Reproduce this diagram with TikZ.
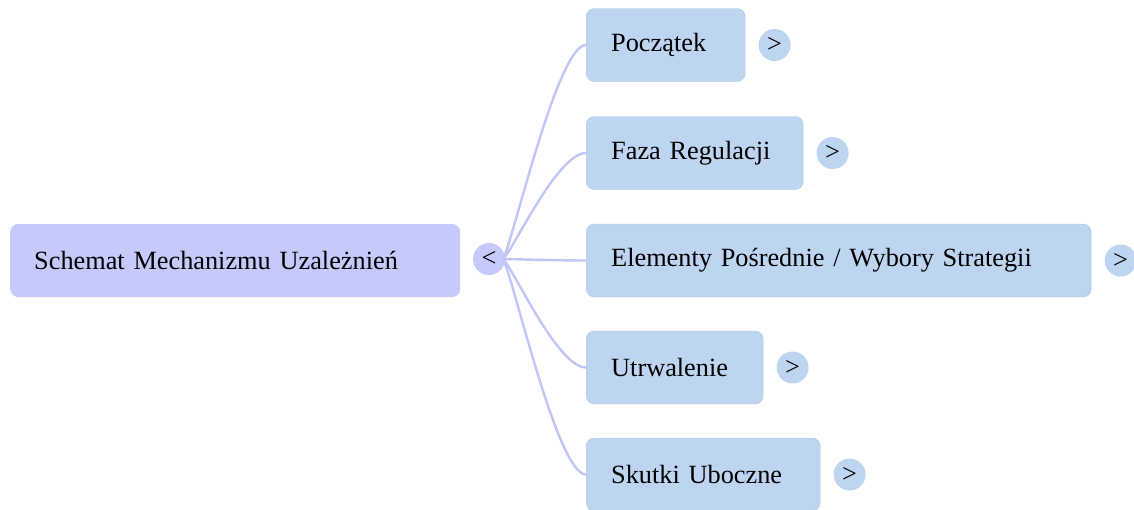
\documentclass[tikz,border=0pt]{standalone}
\usepackage{fontspec}
\setmainfont{Liberation Serif}
\usetikzlibrary{positioning}
\definecolor{rootfill}{RGB}{197,202,251}
\definecolor{leaffill}{RGB}{189,213,240}
\definecolor{leafline}{RGB}{178,200,230}
\definecolor{linkline}{RGB}{192,198,248}
\begin{document}
\begin{tikzpicture}[
                x=1pt,y=-1pt,
                every node/.style={font=\fontsize{26.3}{30}\selectfont},
                rootbox/.style={fill=rootfill,rounded corners=8pt,minimum height=73pt,inner xsep=24pt,anchor=west,align=left},
                leafbox/.style={draw=leafline,fill=leaffill,rounded corners=8pt,minimum height=73pt,inner xsep=25pt,anchor=west,align=left},
                togglebtn/.style={circle,inner sep=0pt,minimum size=32pt},
                link/.style={linkline,line width=2.4pt}
            ]
                \useasboundingbox (0,0) rectangle (1134,509);

                \node[rootbox,text width=402pt] (root) at (10,260.5) {Schemat Mechanizmu Uzależnień};
                \node[togglebtn,fill=rootfill] (rootbtn) at (489,259) {<};

                \foreach \name/\txt/\y/\w in {start/Początek/45/159, reg/Faza Regulacji/153/217, mid/{Elementy Pośrednie / Wybory Strategii}/260.5/505, fix/Utrwalenie/367.5/177, side/Skutki Uboczne/474.5/234} {
                    \draw[link] ([xshift=-3pt]rootbtn.east) .. controls +(7,0) and +(-30,0) .. (586,\y);
                    \node[leafbox,text width=\w pt-50pt] (\name) at (586,\y) {\txt};
                    \node[togglebtn,fill=leaffill,right=13pt of \name] (\name btn) {>};
                }
            \end{tikzpicture}
\end{document}
